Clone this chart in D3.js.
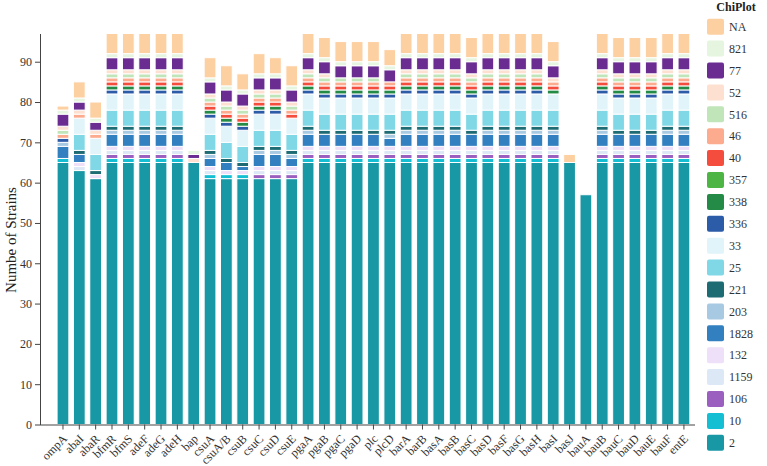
<!DOCTYPE html>
<html><head><meta charset="utf-8">
<script src="https://cdn.jsdelivr.net/npm/d3@7"></script>
<style>body{margin:0;background:#fff} svg{display:block;font-family:"Liberation Serif","Times New Roman",serif}</style>
</head><body><svg id="c" width="767" height="466"></svg>
<script>
const categories = ["ompA","abaI","abaR","bfmR","bfmS","adeF","adeG","adeH","bap","csuA","csuA/B","csuB","csuC","csuD","csuE","pgaA","pgaB","pgaC","pgaD","plc","plcD","barA","barB","basA","basB","basC","basD","basF","basG","basH","basI","basJ","bauA","bauB","bauC","bauD","bauE","bauF","entE"];
const seriesKeys = ["2","10","106","1159","132","1828","203","221","25","33","336","338","357","40","46","516","52","77","821","NA"];
const seriesColors = ["#1897a5","#14bed3","#9b5fc0","#dde8f6","#eee0f8","#3280c0","#a7c9e2","#1d6b73","#80d8e6","#e0f4fa","#2c5ba8","#238b45","#4cb543","#f54d3d","#fcab8f","#bfe5b9","#fde0cf","#6a2c91","#e5f5e0","#fdd0a2"];
const yTicks = [0,10,20,30,40,50,60,70,80,90];

//            ompA abaI abaR bfmR bfmS adeF adeG adeH bap csuA cAB csuB csuC csuD csuE pgaA pgaB pgaC pgaD plc plcD barA barB basA basB basC basD basF basG basH basI basJ bauA bauB bauC bauD bauE bauF entE
const s2    = [65,63,61,65,65,65,65,65,65,61,61,61,61,61,61,65,65,65,65,65,65,65,65,65,65,65,65,65,65,65,65,65,57,65,65,65,65,65,65];
const s10   = [1,0,0,1,1,1,1,1,0,1,1,1,0,0,0,1,1,1,1,1,1,1,1,1,1,1,1,1,1,1,1,0,0,1,1,1,1,1,1];
const s106  = [0,0,0,1,1,1,1,1,0,0,0,0,1,1,1,1,1,1,1,1,1,1,1,1,1,1,1,1,1,1,1,0,0,1,1,1,1,1,1];
const s1159 = [0,1,0,1,1,1,1,1,0,1,0,0,1,1,1,1,1,1,1,1,1,1,1,1,1,1,1,1,1,1,1,0,0,1,1,1,1,1,1];
const s132  = [0,1,1,1,1,1,1,1,0,1,1,1,1,1,1,1,1,1,1,1,1,1,1,1,1,1,1,1,1,1,1,0,0,1,1,1,1,1,1];
const s1828 = [3,2,0,3,3,3,3,3,0,2,2,1,3,3,2,3,3,3,3,3,2,3,3,3,3,3,3,3,3,3,3,0,0,3,3,3,3,3,3];
const s203  = [1,0,0,1,1,1,1,1,0,1,0,0,1,1,1,1,0,0,0,0,1,1,1,1,1,0,1,1,1,1,1,0,0,1,0,0,0,1,1];
const s221  = [0,1,1,1,1,1,1,1,0,1,1,1,1,1,1,1,1,1,1,1,1,1,1,1,1,1,1,1,1,1,1,0,0,1,1,1,1,1,1];
const s25   = [0,4,4,4,4,4,4,4,0,4,4,4,4,4,4,4,4,4,4,4,4,4,4,4,4,4,4,4,4,4,4,0,0,4,4,4,4,4,4];
const s33   = [0,4,4,4,4,4,4,4,0,4,4,4,4,4,4,4,4,4,4,4,4,4,4,4,4,4,4,4,4,4,4,0,0,4,4,4,4,4,4];
const s336  = [1,0,0,1,1,1,1,1,0,1,1,1,1,1,0,1,1,1,1,1,1,1,1,1,1,1,1,1,1,1,0,0,0,1,1,1,1,1,1];
const s338  = [0,0,0,1,1,1,1,1,0,1,1,1,1,1,0,1,1,1,1,1,1,1,1,1,1,1,1,1,1,1,1,0,0,1,1,1,1,1,1];
const s357  = [0,0,0,0,0,0,0,0,0,0,0,0,0,0,0,0,0,0,0,0,0,0,0,0,0,0,0,0,0,0,0,0,0,0,0,0,0,0,0];
const s40   = [0,0,0,1,1,1,1,1,0,1,1,1,1,1,1,1,1,1,1,1,1,1,1,1,1,1,1,1,1,1,1,0,0,1,1,1,1,1,1];
const s46   = [1,1,1,1,1,1,1,1,0,1,1,1,1,1,1,1,1,1,1,1,1,1,1,1,1,1,1,1,1,1,1,0,0,1,1,1,1,1,1];
const s516  = [1,0,0,1,1,1,1,1,0,1,1,1,1,1,1,1,1,1,1,1,0,1,1,1,1,1,1,1,1,1,0,0,0,1,1,1,1,1,1];
const s52   = [1,1,1,1,1,1,1,1,1,1,1,1,1,1,1,1,1,0,0,0,0,1,1,1,1,1,1,1,1,1,1,0,0,1,1,1,1,1,1];
const s77   = [3,2,2,3,3,3,3,3,1,3,3,3,3,3,3,3,3,3,3,3,3,3,3,3,3,3,3,3,3,3,3,0,0,3,3,3,3,3,3];
const s821  = [1,1,1,1,1,1,1,1,1,1,1,1,1,1,1,1,1,1,1,1,1,1,1,1,1,1,1,1,1,1,1,0,0,1,1,1,1,1,1];
const sNA   = [1,4,4,5,5,5,5,5,0,5,5,4,5,4,5,5,5,5,5,5,4,5,5,5,5,5,5,5,5,5,5,2,0,5,5,5,5,5,5];

const seriesArrays = [s2,s10,s106,s1159,s132,s1828,s203,s221,s25,s33,s336,s338,s357,s40,s46,s516,s52,s77,s821,sNA];

const rows = categories.map((c,i)=>{
  const o = {cat:c};
  seriesKeys.forEach((k,j)=>{ o[k] = seriesArrays[j][i]; });
  return o;
});

const svg = d3.select("#c");
const x = d3.scaleBand().domain(categories).range([54.8, 692.1]).paddingInner(0.28).paddingOuter(0.14);
const y = d3.scaleLinear().domain([0, 97]).range([424.5, 33.5]);
const color = d3.scaleOrdinal().domain(seriesKeys).range(seriesColors);

const stacked = d3.stack().keys(seriesKeys)(rows);

svg.append("g").selectAll("g").data(stacked).join("g")
  .attr("fill", d=>color(d.key))
  .selectAll("rect").data(d=>d.filter(p=>p[1]-p[0]>0).map(p=>({p, cat:p.data.cat})))
  .join("rect")
  .attr("x", d=>x(d.cat))
  .attr("width", x.bandwidth())
  .attr("y", d=>y(d.p[1]))
  .attr("height", d=>y(d.p[0])-y(d.p[1]))
  .attr("stroke","#fff").attr("stroke-width",1);

// Y axis
const gy = svg.append("g").attr("transform","translate(40,0)")
  .call(d3.axisLeft(y).tickValues(yTicks).tickSize(5).tickSizeOuter(0));
gy.select(".domain").attr("stroke","#444");
gy.selectAll(".tick line").attr("stroke","#444");
gy.selectAll(".tick text").attr("font-size",12).attr("fill","#333")
  .attr("font-family","'Liberation Serif','Times New Roman',serif");

// X axis
const gx = svg.append("g").attr("transform","translate(0,424.5)")
  .call(d3.axisBottom(x).tickSize(5).tickSizeOuter(0));
gx.select(".domain").remove();
gx.append("line").attr("x1",40).attr("x2",695).attr("y1",0.5).attr("y2",0.5).attr("stroke","#444");
gx.selectAll(".tick line").attr("stroke","#444");
gx.selectAll(".tick text")
  .attr("font-size",12).attr("fill","#333")
  .attr("font-family","'Liberation Serif','Times New Roman',serif")
  .attr("text-anchor","end")
  .attr("y",0).attr("dy","0.35em")
  .attr("transform","translate(2,12) rotate(-45)");

// Y title
svg.append("text").attr("transform","translate(16,240) rotate(-90)")
  .attr("text-anchor","middle").attr("font-size",15).attr("fill","#222")
  .text("Numbe of Strains");

// Legend
const lg = svg.append("g");
lg.append("text").attr("x",736).attr("y",11).attr("text-anchor","middle")
  .attr("font-size",12).attr("font-weight","bold").attr("fill","#222").text("ChiPlot");
const legendKeys = seriesKeys.slice().reverse();
legendKeys.forEach((k,i)=>{
  const cy = 26.7 + i*21.9;
  lg.append("rect").attr("x",707).attr("y",cy-8).attr("width",17).attr("height",16)
    .attr("rx",2).attr("fill",color(k));
  lg.append("text").attr("x",729).attr("y",cy).attr("dy","0.35em")
    .attr("font-size",12).attr("fill","#333").text(k);
});
</script>
</body></html>
